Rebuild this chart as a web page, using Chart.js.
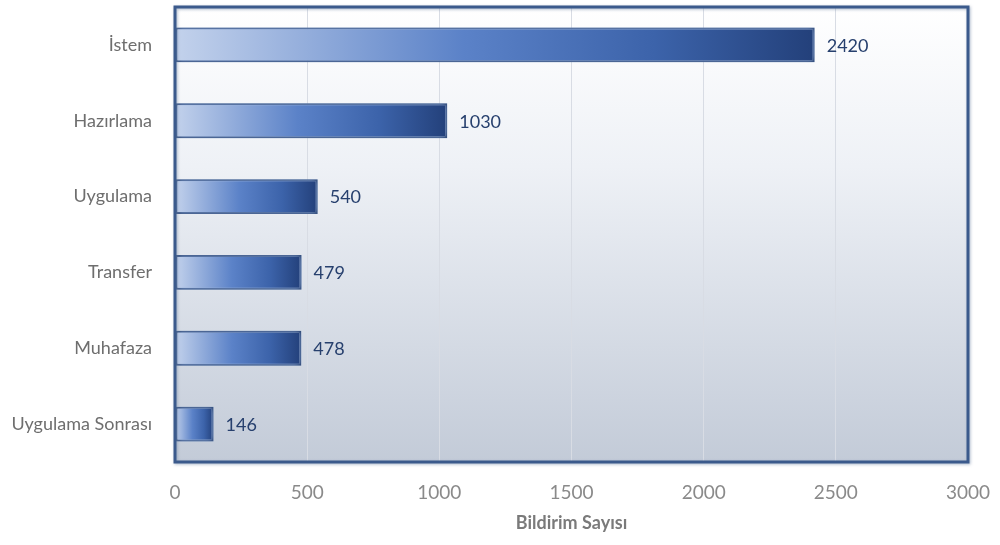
<!DOCTYPE html>
<html>
<head>
<meta charset="utf-8">
<script src="https://cdn.jsdelivr.net/npm/chart.js@4.4.1/dist/chart.umd.min.js"></script>
<style>
  html, body { margin: 0; padding: 0; background: #fff; }
  #wrap { width: 1000px; height: 545px; }
</style>
</head>
<body>
<div id="wrap"><canvas id="chart"></canvas></div>
<script>
const categories = ['İstem', 'Hazırlama', 'Uygulama', 'Transfer', 'Muhafaza', 'Uygulama Sonrası'];
const counts = [2420, 1030, 540, 479, 478, 146];
const xTicks = [0, 500, 1000, 1500, 2000, 2500, 3000];
const axisTitle = 'Bildirim Sayısı';

const FONT = "Lato, 'Open Sans', sans-serif";

// plot area background + dark frame
const frame = {
  id: 'frame',
  beforeDraw(chart) {
    const { ctx, chartArea: a } = chart;
    const g = ctx.createLinearGradient(0, a.top, 0, a.bottom);
    g.addColorStop(0, '#ffffff');
    g.addColorStop(0.35, '#eef1f6');
    g.addColorStop(1, '#c3cbd8');
    ctx.save();
    ctx.fillStyle = g;
    ctx.fillRect(a.left, a.top, a.right - a.left, a.bottom - a.top);
    ctx.restore();
  },
  afterDraw(chart) {
    const { ctx, chartArea: a } = chart;
    ctx.save();
    ctx.strokeStyle = '#3b5a8c';
    ctx.lineWidth = 3;
    ctx.shadowColor = 'rgba(120,140,170,0.6)';
    ctx.shadowBlur = 3;
    ctx.shadowOffsetX = 1;
    ctx.shadowOffsetY = 1;
    ctx.strokeRect(a.left, a.top, a.right - a.left, a.bottom - a.top);
    ctx.restore();
  }
};

// soft glow round the bars
const glow = {
  id: 'glow',
  beforeDatasetDraw(chart) {
    const ctx = chart.ctx;
    ctx.save();
    ctx.shadowColor = 'rgba(150,180,230,0.95)';
    ctx.shadowBlur = 6;
  },
  afterDatasetDraw(chart) {
    chart.ctx.restore();
  }
};

const valueLabels = {
  id: 'valueLabels',
  afterDatasetsDraw(chart) {
    const ctx = chart.ctx;
    const meta = chart.getDatasetMeta(0);
    ctx.save();
    ctx.font = '18px ' + FONT;
    ctx.fillStyle = '#27406e';
    ctx.textBaseline = 'middle';
    meta.data.forEach((bar, i) => {
      ctx.fillText(String(counts[i]), bar.x + 12, bar.y + 1);
    });
    ctx.restore();
  }
};

function barFill(c) {
  const chart = c.chart;
  const x = chart.scales.x;
  if (!x || c.raw == null) return '#4a70b5';
  const x0 = x.getPixelForValue(0);
  const x1 = x.getPixelForValue(c.raw);
  if (!isFinite(x0) || !isFinite(x1) || x1 - x0 < 1) return '#4a70b5';
  const g = chart.ctx.createLinearGradient(x0, 0, x1, 0);
  g.addColorStop(0, '#c3d2ec');
  g.addColorStop(0.45, '#5b82c8');
  g.addColorStop(0.75, '#3c63aa');
  g.addColorStop(1, '#23407a');
  return g;
}

new Chart(document.getElementById('chart'), {
  type: 'bar',
  data: {
    labels: categories,
    datasets: [{
      data: counts,
      backgroundColor: barFill,
      borderColor: '#2a4472',
      borderWidth: 2,
      borderSkipped: false,
      barPercentage: 0.46,
      categoryPercentage: 1
    }]
  },
  options: {
    indexAxis: 'y',
    responsive: true,
    maintainAspectRatio: false,
    animation: false,
    layout: { padding: { top: 7, right: 32, bottom: 11, left: 0 } },
    plugins: {
      legend: { display: false },
      tooltip: { enabled: false }
    },
    scales: {
      x: {
        min: 0,
        max: 3000,
        afterBuildTicks(s) { s.ticks = xTicks.map(v => ({ value: v })); },
        afterFit(s) {
          s.height = 72;
          s.paddingLeft = 0;
          s.paddingRight = 0;
        },
        grid: { color: '#d8dce4', lineWidth: 1, drawTicks: false },
        border: { display: false },
        ticks: {
          color: '#8a8a8a',
          font: { family: FONT, size: 19 },
          padding: 19,
          callback: v => String(v)
        },
        title: {
          display: true,
          text: axisTitle,
          color: '#7a7a7a',
          font: { family: FONT, size: 18, weight: 'bold' },
          padding: { top: 0, bottom: 0 }
        }
      },
      y: {
        afterFit(s) {
          s.width = 175;
          s.paddingTop = 0;
          s.paddingBottom = 0;
        },
        grid: { display: false },
        border: { display: false },
        ticks: { color: '#6e6e6e', font: { family: FONT, size: 18 }, padding: 15 }
      }
    }
  },
  plugins: [frame, glow, valueLabels]
});
</script>
</body>
</html>
